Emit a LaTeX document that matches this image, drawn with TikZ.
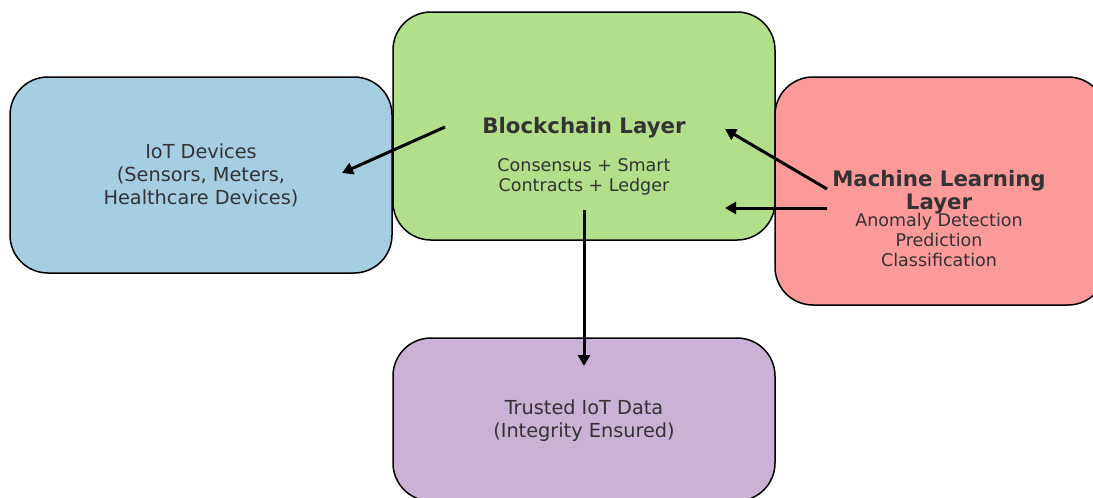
\documentclass[tikz,border=0pt]{standalone}
\usepackage{fontspec}
\setmainfont{DejaVu Sans}
\usetikzlibrary{arrows.meta}
\definecolor{cblue}{HTML}{A6CEE3}
\definecolor{cgreen}{HTML}{B2DF8A}
\definecolor{cred}{HTML}{FB9A99}
\definecolor{cpurple}{HTML}{CAB2D6}
\definecolor{ctext}{HTML}{333333}
\tikzset{
  box/.style={draw=black, line width=1.5pt, rounded corners=38pt, inner sep=0pt},
  lbl/.style={text=ctext, align=center, inner sep=0pt},
  bigtxt/.style={lbl, font=\fontsize{19.3}{23}\selectfont},
  ttl/.style={lbl, font=\fontsize{21.3}{23}\selectfont\bfseries},
  subtxt/.style={lbl, font=\fontsize{17.5}{20}\selectfont},
  arr/.style={line width=3pt, -{Triangle[length=11pt,width=12pt]}}
}
\begin{document}
\begin{tikzpicture}[x=1pt,y=-1pt]
\useasboundingbox (0,0) rectangle (1093,498);
\fill[white] (0,0) rectangle (1093,498);
\clip (0,0) rectangle (1093,498);
% boxes
\node[box, fill=cblue, minimum width=382pt, minimum height=196pt] (iot) at (201,175) {};
\node[box, fill=cgreen, minimum width=382pt, minimum height=228pt] (bc) at (584,126) {};
\node[box, fill=cred, minimum width=331pt, minimum height=228pt] (ml) at (940.5,191) {};
\node[box, fill=cpurple, minimum width=382pt, minimum height=163pt] (td) at (584,419.5) {};
% texts
\node[bigtxt] (iott) at (201,175) {IoT Devices\\(Sensors, Meters,\\Healthcare Devices)};
\node[ttl] (bct) at (584,127.5) {Blockchain Layer};
\node[subtxt] (bcs) at (584,177) {Consensus + Smart\\Contracts + Ledger};
\node[ttl] (mlt) at (939,192.5) {Machine Learning\\Layer};
\node[subtxt] (mls) at (939,239.5) {Anomaly Detection\\Prediction\\Classification};
\node[bigtxt] (tdt) at (584,421) {Trusted IoT Data\\(Integrity Ensured)};
% arrow endpoints
\coordinate (a1s) at (445,127);
\coordinate (a1e) at (342,173);
\coordinate (a2s) at (827,189);
\coordinate (a2e) at (725,129);
\coordinate (a3s) at (827,208);
\coordinate (a3e) at (725,208);
\coordinate (a4s) at (584,210);
\coordinate (a4e) at (584,366);
\draw[arr] (a1s) -- (a1e);
\draw[arr] (a2s) -- (a2e);
\draw[arr] (a3s) -- (a3e);
\draw[arr] (a4s) -- (a4e);
\end{tikzpicture}
\end{document}
